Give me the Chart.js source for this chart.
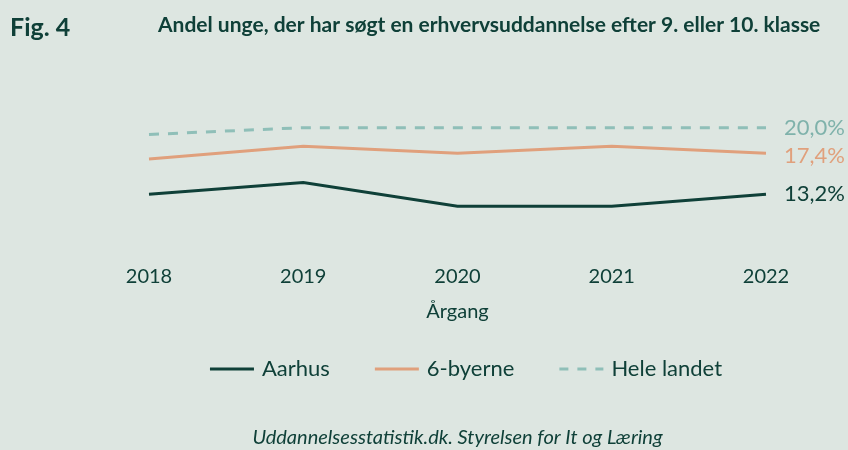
<!DOCTYPE html>
<html>
<head>
<meta charset="utf-8">
<script src="https://cdn.jsdelivr.net/npm/chart.js@4.4.1/dist/chart.umd.min.js"></script>
<style>
  html, body { margin: 0; padding: 0; background: #dde6e1; }
  #wrap { width: 848px; height: 450px; position: relative; }
</style>
</head>
<body>
<div id="wrap"><canvas id="fig4"></canvas></div>
<script>
const years = ['2018', '2019', '2020', '2021', '2022'];
const aarhus = [13.2, 14.4, 12.0, 12.0, 13.2];
const seksByerne = [16.8, 18.1, 17.4, 18.1, 17.4];
const heleLandet = [19.3, 20.0, 20.0, 20.0, 20.0];
const endLabels = ['13,2%', '17,4%', '20,0%'];

const dark = '#0f4038';
const orange = '#e0a07c';
const teal = '#8fbfb8';

// titles, legend, source line and the values at the end of each line
const extras = {
    id: 'extras',
    afterDraw(chart) {
        const { ctx, chartArea } = chart;
        ctx.save();
        ctx.fillStyle = dark;
        ctx.textBaseline = 'middle';
        ctx.textAlign = 'left';
        ctx.font = 'bold 25px Lato';
        ctx.fillText('Fig. 4', 10, 28);
        ctx.font = 'bold 21px Lato';
        ctx.fillText('Andel unge, der har søgt en erhvervsuddannelse efter 9. eller 10. klasse', 158, 25);

        ctx.font = 'italic 20px Lato';
        ctx.textAlign = 'center';
        ctx.fillText('Uddannelsesstatistik.dk. Styrelsen for It og Læring', (chartArea.left + chartArea.right) / 2, 438);

        // end labels
        ctx.textAlign = 'left';
        ctx.font = '22px Lato';
        const colors = [dark, orange, '#7fb2ab'];
        const shift = [0, 3, 0];
        chart.data.datasets.forEach((ds, i) => {
            const pt = chart.getDatasetMeta(i).data[ds.data.length - 1];
            ctx.fillStyle = colors[i];
            ctx.fillText(endLabels[i], pt.x + 18, pt.y + shift[i]);
        });

        // legend
        const lineLen = 44, gapText = 8, gapItem = 45, ly = 369;
        ctx.font = '22px Lato';
        const items = chart.data.datasets;
        let total = gapItem * (items.length - 1);
        items.forEach(ds => { total += lineLen + gapText + ctx.measureText(ds.label).width; });
        let x = 466 - total / 2;
        items.forEach(ds => {
            ctx.strokeStyle = ds.borderColor;
            ctx.lineWidth = 3;
            ctx.setLineDash(ds.borderDash ? [9, 9] : []);
            ctx.beginPath();
            ctx.moveTo(x, ly);
            ctx.lineTo(x + lineLen, ly);
            ctx.stroke();
            ctx.setLineDash([]);
            x += lineLen + gapText;
            ctx.fillStyle = dark;
            ctx.fillText(ds.label, x, ly);
            x += ctx.measureText(ds.label).width + gapItem;
        });
        ctx.restore();
    }
};

new Chart(document.getElementById('fig4'), {
    type: 'line',
    data: {
        labels: years,
        datasets: [{
            label: 'Aarhus',
            data: aarhus,
            borderColor: dark,
            backgroundColor: dark,
            borderWidth: 3,
            pointRadius: 0,
            tension: 0
        }, {
            label: '6-byerne',
            data: seksByerne,
            borderColor: orange,
            backgroundColor: orange,
            borderWidth: 3,
            pointRadius: 0,
            tension: 0
        }, {
            label: 'Hele landet',
            data: heleLandet,
            borderColor: teal,
            backgroundColor: teal,
            borderWidth: 3,
            borderDash: [10, 9],
            pointRadius: 0,
            tension: 0
        }]
    },
    options: {
        responsive: true,
        maintainAspectRatio: false,
        animation: false,
        layout: {
            padding: { left: 149, right: 82, top: 108, bottom: 126 }
        },
        scales: {
            x: {
                grid: { display: false, drawTicks: false },
                border: { display: false },
                ticks: { color: dark, font: { family: 'Lato', size: 20 }, padding: 0 },
                title: {
                    display: true,
                    text: 'Årgang',
                    color: dark,
                    font: { family: 'Lato', size: 20 },
                    padding: { top: 11, bottom: 0 }
                }
            },
            y: {
                display: false,
                min: 6,
                max: 22
            }
        },
        plugins: {
            legend: { display: false },
            tooltip: { enabled: false }
        }
    },
    plugins: [extras]
});
</script>
</body>
</html>
